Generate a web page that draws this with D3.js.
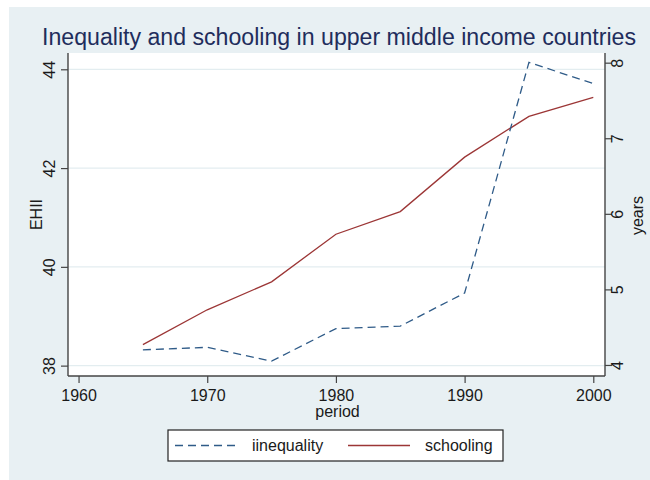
<!DOCTYPE html>
<html lang="en">
<head>
    <meta charset="UTF-8">
    <title>Inequality and schooling in upper middle income countries</title>
    <script src="https://d3js.org/d3.v7.min.js"></script>
    <style>
        body {
            margin: 0;
            padding: 0;
            background-color: #ffffff;
            font-family: 'Liberation Sans', Arial, sans-serif;
        }
        svg text {
            fill: #1a1a1a;
        }
    </style>
</head>
<body>
    <div id="chart"></div>
    <script>
        // data
        var years = [1965, 1970, 1975, 1980, 1985, 1990, 1995, 2000];
        var inequality = [38.32, 38.37, 38.09, 38.75, 38.80, 39.47, 44.14, 43.71];
        var schooling = [4.27, 4.73, 5.10, 5.73, 6.03, 6.75, 7.29, 7.54];
        var xTicks = [1960, 1970, 1980, 1990, 2000];
        var leftTicks = [38, 40, 42, 44];
        var rightTicks = [4, 5, 6, 7, 8];
        var seriesNames = ["iinequality", "schooling"];

        var W = 650, H = 480;
        var plot = { left: 68, right: 605, top: 53, bottom: 376 };

        var svg = d3.select("#chart")
            .append("svg")
            .attr("width", W)
            .attr("height", H);

        // outer background
        svg.append("rect")
            .attr("x", 9).attr("y", 7)
            .attr("width", W - 9).attr("height", H - 7)
            .attr("fill", "#e8f0f3");

        // plot region
        svg.append("rect")
            .attr("x", plot.left).attr("y", plot.top)
            .attr("width", plot.right - plot.left)
            .attr("height", plot.bottom - plot.top)
            .attr("fill", "#ffffff");

        var x = d3.scaleLinear()
            .domain([1959.18, 2000.91])
            .range([plot.left, plot.right]);

        var yL = d3.scaleLinear()
            .domain([37.79, 44.33])
            .range([plot.bottom, plot.top]);

        var yR = d3.scaleLinear()
            .domain([3.854, 8.128])
            .range([plot.bottom, plot.top]);

        // gridlines
        svg.append("g")
            .selectAll("line")
            .data(leftTicks)
            .enter()
            .append("line")
            .attr("x1", plot.left)
            .attr("x2", plot.right)
            .attr("y1", function (d) { return yL(d); })
            .attr("y2", function (d) { return yL(d); })
            .attr("stroke", "#e3edf0")
            .attr("stroke-width", 1.2);

        // axes
        var axisColor = "#444";
        var fmt = d3.format("d");

        var gx = svg.append("g")
            .attr("transform", "translate(0," + plot.bottom + ")")
            .call(d3.axisBottom(x).tickValues(xTicks).tickFormat(fmt).tickSize(7).tickPadding(7));

        var gl = svg.append("g")
            .attr("transform", "translate(" + plot.left + ",0)")
            .call(d3.axisLeft(yL).tickValues(leftTicks).tickFormat(fmt).tickSize(7));

        var gr = svg.append("g")
            .attr("transform", "translate(" + plot.right + ",0)")
            .call(d3.axisRight(yR).tickValues(rightTicks).tickFormat(fmt).tickSize(7));

        [gx, gl, gr].forEach(function (g) {
            g.select(".domain").remove();
            g.selectAll(".tick line").attr("stroke", axisColor).attr("stroke-width", 1.2);
            g.selectAll(".tick text")
                .style("font-family", "'Liberation Sans', Arial, sans-serif")
                .style("font-size", "16px")
                .attr("fill", "#1a1a1a");
        });

        // rotated y tick labels
        gl.selectAll(".tick text")
            .attr("x", null).attr("dy", null)
            .attr("transform", "translate(-13,0) rotate(-90)")
            .attr("text-anchor", "middle");

        gr.selectAll(".tick text")
            .attr("x", null).attr("dy", null)
            .attr("transform", "translate(18,0) rotate(-90)")
            .attr("text-anchor", "middle");

        // axis lines
        svg.append("line")
            .attr("x1", plot.left).attr("x2", plot.right)
            .attr("y1", plot.bottom).attr("y2", plot.bottom)
            .attr("stroke", axisColor).attr("stroke-width", 1.4);
        svg.append("line")
            .attr("x1", plot.left).attr("x2", plot.left)
            .attr("y1", plot.top).attr("y2", plot.bottom)
            .attr("stroke", axisColor).attr("stroke-width", 1.4);
        svg.append("line")
            .attr("x1", plot.right).attr("x2", plot.right)
            .attr("y1", plot.top).attr("y2", plot.bottom)
            .attr("stroke", axisColor).attr("stroke-width", 1.4);

        // series lines
        var ineqLine = d3.line()
            .x(function (d, i) { return x(years[i]); })
            .y(function (d) { return yL(d); });

        var schoolLine = d3.line()
            .x(function (d, i) { return x(years[i]); })
            .y(function (d) { return yR(d); });

        svg.append("path")
            .datum(schooling)
            .attr("d", schoolLine)
            .attr("fill", "none")
            .attr("stroke", "#9c3636")
            .attr("stroke-width", 1.3);

        svg.append("path")
            .datum(inequality)
            .attr("d", ineqLine)
            .attr("fill", "none")
            .attr("stroke", "#2f5b88")
            .attr("stroke-width", 1.3)
            .attr("stroke-dasharray", "8,5");

        // titles
        svg.append("text")
            .attr("transform", "translate(42,45) scale(1,1.1)")
            .attr("textLength", 594)
            .attr("lengthAdjust", "spacingAndGlyphs")
            .style("font-size", "22px")
            .style("fill", "#1f2d5c")
            .text("Inequality and schooling in upper middle income countries");

        svg.append("text")
            .attr("x", (plot.left + plot.right) / 2 + 1)
            .attr("y", 417)
            .attr("text-anchor", "middle")
            .style("font-size", "16px")
            .text("period");

        svg.append("text")
            .attr("transform", "translate(42," + ((plot.top + plot.bottom) / 2) + ") rotate(-90)")
            .attr("text-anchor", "middle")
            .style("font-size", "16px")
            .text("EHII");

        svg.append("text")
            .attr("transform", "translate(643," + ((plot.top + plot.bottom) / 2 + 1) + ") rotate(-90)")
            .attr("text-anchor", "middle")
            .style("font-size", "16px")
            .text("years");

        // legend
        var legend = svg.append("g");
        legend.append("rect")
            .attr("x", 168).attr("y", 430)
            .attr("width", 335).attr("height", 31)
            .attr("fill", "#ffffff")
            .attr("stroke", "#222")
            .attr("stroke-width", 1.2);

        legend.append("line")
            .attr("x1", 175).attr("x2", 238)
            .attr("y1", 445.5).attr("y2", 445.5)
            .attr("stroke", "#2f5b88")
            .attr("stroke-width", 1.3)
            .attr("stroke-dasharray", "8,5");
        legend.append("text")
            .attr("x", 252).attr("y", 451)
            .style("font-size", "16px")
            .text(seriesNames[0]);

        legend.append("line")
            .attr("x1", 348).attr("x2", 410)
            .attr("y1", 445.5).attr("y2", 445.5)
            .attr("stroke", "#9c3636")
            .attr("stroke-width", 1.3);
        legend.append("text")
            .attr("x", 425).attr("y", 451)
            .style("font-size", "16px")
            .text(seriesNames[1]);
    </script>
</body>
</html>
